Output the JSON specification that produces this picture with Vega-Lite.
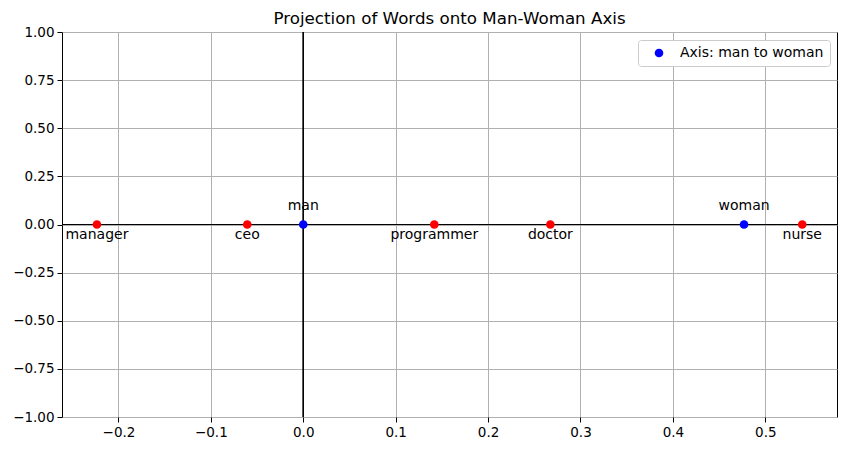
{
  "$schema": "https://vega.github.io/schema/vega-lite/v6.json",
  "width": 775,
  "height": 385,
  "autosize": {"type": "none"},
  "padding": {"left": 62, "top": 32, "right": 10, "bottom": 34},
  "background": "white",
  "title": {"text": "Projection of Words onto Man-Woman Axis", "fontSize": 16.7, "font": "DejaVu Sans", "fontWeight": "normal", "color": "black", "offset": 2, "dy": 5},
  "config": {
    "font": "DejaVu Sans",
    "view": {"stroke": "black", "strokeWidth": 1},
    "axis": {"labelFont": "DejaVu Sans", "labelFontSize": 13.5, "labelColor": "black", "tickColor": "black", "tickSize": 5, "domain": false, "grid": true, "gridColor": "#b0b0b0", "gridWidth": 1, "labelPadding": 3}
  },
  "data": {"values": [
    {"word": "man", "x": 0.0, "y": 0, "kind": "axis", "series": "Axis: man to woman"},
    {"word": "woman", "x": 0.477, "y": 0, "kind": "axis", "series": "Axis: man to woman"},
    {"word": "manager", "x": -0.2233, "y": 0, "kind": "word", "series": "words"},
    {"word": "ceo", "x": -0.0606, "y": 0, "kind": "word", "series": "words"},
    {"word": "programmer", "x": 0.1418, "y": 0, "kind": "word", "series": "words"},
    {"word": "doctor", "x": 0.2674, "y": 0, "kind": "word", "series": "words"},
    {"word": "nurse", "x": 0.54, "y": 0, "kind": "word", "series": "words"}
  ]},
  "encoding": {
    "x": {"field": "x", "type": "quantitative", "scale": {"domain": [-0.2611, 0.5776], "nice": false, "zero": false}, "axis": {"title": null, "values": [-0.2, -0.1, 0, 0.1, 0.2, 0.3, 0.4, 0.5], "format": ".1f"}},
    "y": {"field": "y", "type": "quantitative", "scale": {"domain": [-1, 1], "nice": false}, "axis": {"title": null, "values": [-1, -0.75, -0.5, -0.25, 0, 0.25, 0.5, 0.75, 1], "format": ".2f"}}
  },
  "layer": [
    {"mark": {"type": "rule", "color": "black", "strokeWidth": 0.6}, "encoding": {"x": {"datum": 0, "type": "quantitative"}, "y": null}},
    {"mark": {"type": "rule", "color": "black", "strokeWidth": 0.6}, "encoding": {"y": {"datum": 0, "type": "quantitative"}, "x": null}},
    {"transform": [{"filter": "datum.kind == 'word'"}], "mark": {"type": "point", "filled": true, "size": 75, "color": "red", "opacity": 1}},
    {"transform": [{"filter": "datum.kind == 'axis'"}], "mark": {"type": "point", "filled": true, "size": 75, "opacity": 1},
     "encoding": {"color": {"field": "series", "type": "nominal", "scale": {"range": ["blue"]},
       "legend": {"title": null, "orient": "none", "legendX": 576, "legendY": 8, "labelFontSize": 14, "labelColor": "black", "labelFont": "DejaVu Sans", "symbolSize": 75, "symbolType": "circle", "padding": 6, "symbolOffset": 8, "strokeColor": "#cccccc", "fillColor": "white", "cornerRadius": 3, "labelOffset": 14, "rowPadding": 0}}}},
    {"transform": [{"filter": "datum.kind == 'axis'"}], "mark": {"type": "text", "fontSize": 14, "dy": -19, "color": "black", "align": "center", "baseline": "middle"}, "encoding": {"text": {"field": "word"}}},
    {"transform": [{"filter": "datum.kind == 'word'"}], "mark": {"type": "text", "fontSize": 14, "dy": 10, "color": "black", "align": "center", "baseline": "middle"}, "encoding": {"text": {"field": "word"}}}
  ]
}
